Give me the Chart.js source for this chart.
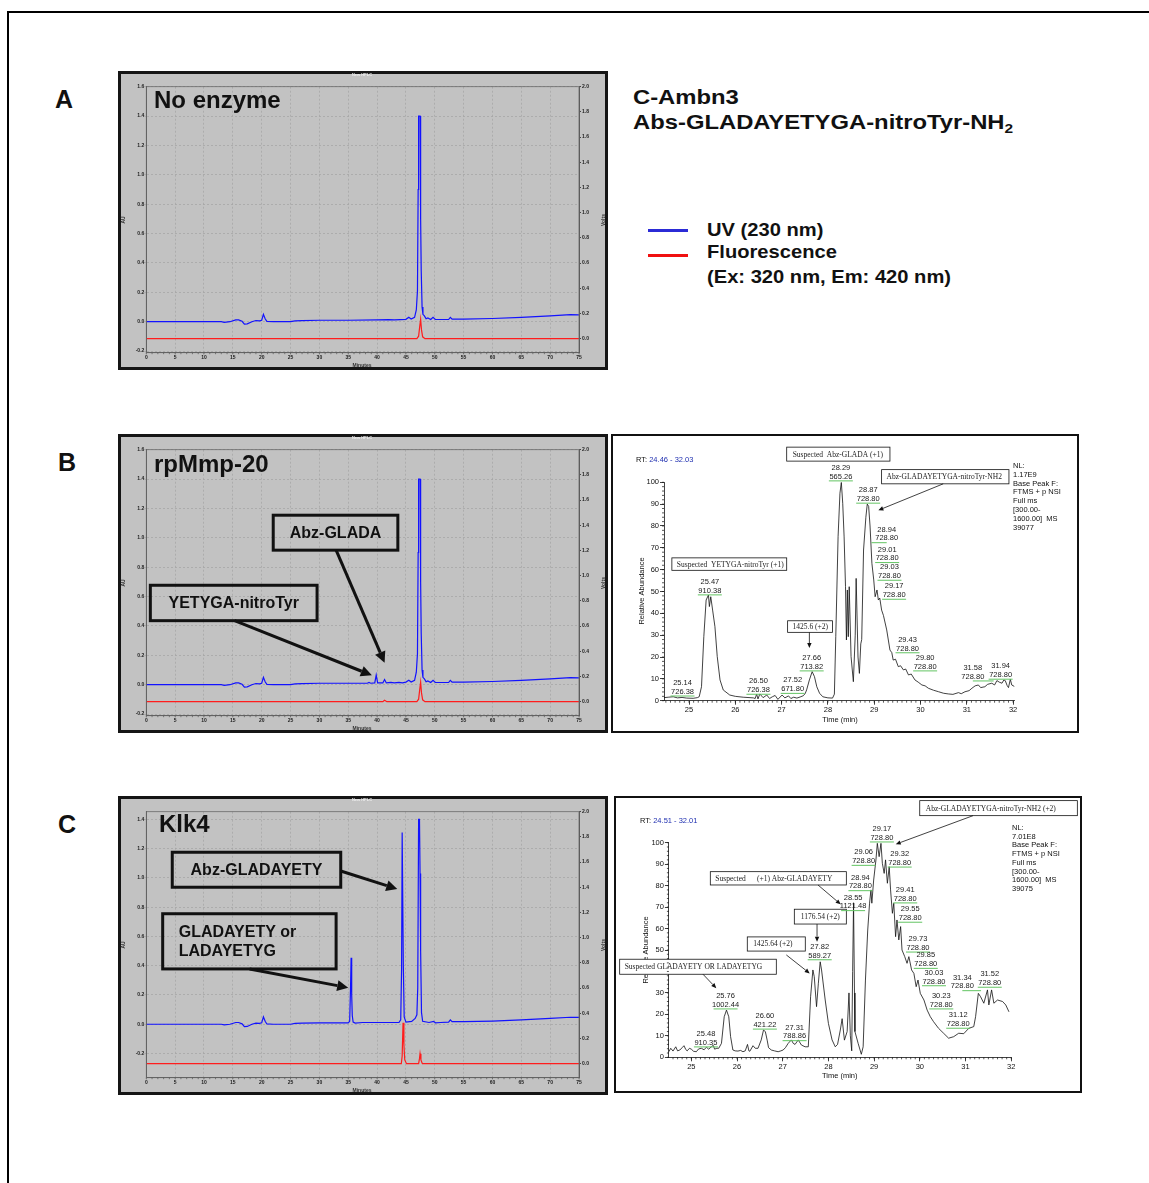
<!DOCTYPE html>
<html>
<head>
<meta charset="utf-8">
<title>C-Ambn3 digestion</title>
<script src="https://cdn.jsdelivr.net/npm/chart.js@4.4.1/dist/chart.umd.min.js"></script>
<style>
body{margin:0;width:1149px;height:1183px;position:relative;overflow:hidden;background:#fff;font-family:"Liberation Sans",Arial,sans-serif;color:#111}
.frame{position:absolute;left:7px;top:11px;width:1200px;height:1200px;border:2px solid #000}
.box{position:absolute;box-sizing:border-box}
.box canvas{display:block}
.hplc{border:3px solid #151515;background:#c2c2c2}
.ms{border:2px solid #111;background:#fff}
.t{position:absolute;white-space:nowrap;line-height:1}
.b{font-weight:bold}
.wide{transform-origin:0 0;transform:scaleX(1.19)}
.leg{transform-origin:0 0;transform:scaleX(1.06)}
.tiny{font-size:5px;font-weight:bold;color:#333}
.rot{transform:translate(-50%,-50%) rotate(-90deg)}
.ctr{transform:translate(-50%,-50%)}
.info{font-size:7.5px;line-height:8.8px}
</style>
</head>
<body>
<div class="frame"></div>

<div class="t b" style="left:55px;top:87px;font-size:25px">A</div>
<div class="t b" style="left:58px;top:450px;font-size:25px">B</div>
<div class="t b" style="left:58px;top:812px;font-size:25px">C</div>

<div class="t b wide" style="left:633px;top:87px;font-size:20px">C-Ambn3</div>
<div class="t b wide" style="left:633px;top:112px;font-size:20px">Abs-GLADAYETYGA-nitroTyr-NH<sub style="font-size:13px;vertical-align:-4px">2</sub></div>

<div style="position:absolute;left:648px;top:229px;width:40px;height:3px;background:#2b2bd6"></div>
<div style="position:absolute;left:648px;top:254px;width:40px;height:3px;background:#f01010"></div>
<div class="t b leg" style="left:707px;top:220px;font-size:19px">UV (230 nm)</div>
<div class="t b leg" style="left:707px;top:242px;font-size:19px">Fluorescence</div>
<div class="t b leg" style="left:707px;top:267px;font-size:19px">(Ex: 320 nm, Em: 420 nm)</div>

<div class="box hplc" style="left:118px;top:71px;width:490px;height:299px"><canvas id="hplcA" width="484" height="293"></canvas></div>
<div class="box hplc" style="left:118px;top:434px;width:490px;height:299px"><canvas id="hplcB" width="484" height="293"></canvas></div>
<div class="box hplc" style="left:118px;top:796px;width:490px;height:299px"><canvas id="hplcC" width="484" height="293"></canvas></div>
<div class="box ms" style="left:611px;top:434px;width:468px;height:299px"><canvas id="msB" width="464" height="295"></canvas></div>
<div class="box ms" style="left:614px;top:796px;width:468px;height:297px"><canvas id="msC" width="464" height="293"></canvas></div>

<div class="t b" style="left:154px;top:88px;font-size:24px">No enzyme</div>
<div class="t b" style="left:154px;top:452px;font-size:24px">rpMmp-20</div>
<div class="t b" style="left:159px;top:812px;font-size:24px">Klk4</div>

<div class="t tiny ctr" style="left:362px;top:75px;color:#eee;font-size:4px">New HPLC</div>
<div class="t tiny ctr" style="left:362px;top:438px;color:#eee;font-size:4px">New HPLC</div>
<div class="t tiny ctr" style="left:362px;top:800px;color:#eee;font-size:4px">New HPLC</div>
<div class="t tiny rot" style="left:123px;top:220px">AU</div>
<div class="t tiny rot" style="left:123px;top:583px">AU</div>
<div class="t tiny rot" style="left:123px;top:945px">AU</div>
<div class="t tiny rot" style="left:603px;top:220px">Volts</div>
<div class="t tiny rot" style="left:603px;top:583px">Volts</div>
<div class="t tiny rot" style="left:603px;top:945px">Volts</div>
<div class="t tiny ctr" style="left:362px;top:365px">Minutes</div>
<div class="t tiny ctr" style="left:362px;top:728px">Minutes</div>
<div class="t tiny ctr" style="left:362px;top:1090px">Minutes</div>

<div class="t" style="left:636px;top:456px;font-size:7.5px">RT: <span style="color:#1f2fb0">24.46 - 32.03</span></div>
<div class="t info" style="left:1013px;top:462px">NL:<br>1.17E9<br>Base Peak F:<br>FTMS + p NSI<br>Full ms<br>[300.00-<br>1600.00]&nbsp; MS<br>39077</div>
<div class="t" style="left:640px;top:817px;font-size:7.5px">RT: <span style="color:#1f2fb0">24.51 - 32.01</span></div>
<div class="t info" style="left:1012px;top:824px;line-height:8.7px">NL:<br>7.01E8<br>Base Peak F:<br>FTMS + p NSI<br>Full ms<br>[300.00-<br>1600.00]&nbsp; MS<br>39075</div>

<script>
Chart.defaults.font.family = '"Liberation Sans", Arial, sans-serif';

// HPLC axes
const minuteTicks = [0, 5, 10, 15, 20, 25, 30, 35, 40, 45, 50, 55, 60, 65, 70, 75];
const auTicksAB = [-0.2, 0, 0.2, 0.4, 0.6, 0.8, 1.0, 1.2, 1.4, 1.6];
const auTicksC = [-0.2, 0, 0.2, 0.4, 0.6, 0.8, 1.0, 1.2, 1.4];
const voltTicks = [0, 0.2, 0.4, 0.6, 0.8, 1.0, 1.2, 1.4, 1.6, 1.8, 2.0];

// MS axes
const msTimeTicks = [25, 26, 27, 28, 29, 30, 31, 32];
const msAbundTicks = [0, 10, 20, 30, 40, 50, 60, 70, 80, 90, 100];

// UV trace (AU) by minute, pieces shared by all three runs
const uvEarly = [[0,0],[13,0],[13.5,-0.004],[14.5,0],[15.5,0.012],[16,0.012],[16.6,0.003],[17,-0.016],[17.5,-0.015],[18.3,0],[19,0.008],[19.6,0.006],[20,0.01],[20.3,0.05],[20.6,0.02],[20.9,0.002],[22,0],[25,0],[25.8,0.006],[27,0.008],[30,0.01],[34,0.01]];
const uvLate = [[52.4,0.015],[52.7,0.03],[53,0.018],[55,0.018],[60,0.022],[65,0.03],[70,0.04],[73.5,0.048],[75,0.047]];

const uvMidA = [[35,0.01],[40,0.012],[42,0.014],[43,0.012],[45,0.016],[45.5,0.03],[45.9,0.018],[46.5,0.03],[46.8,0.08],[47.0,0.21],[47.12,0.9],[47.2,1.4],[47.45,1.4],[47.55,0.7],[47.65,0.35],[47.8,0.1],[47.95,0.05],[48.2,0.04],[48.5,0.02],[48.8,0.025],[49.3,0.015],[49.7,0.03],[50.1,0.015],[51,0.015]];
const uvMidB = [[35,0.01],[38.3,0.01],[38.6,0.015],[38.9,0.01],[39.6,0.012],[39.85,0.065],[40.1,0.012],[41.0,0.012],[41.3,0.035],[41.6,0.012],[42.4,0.016],[43,0.012],[43.8,0.016],[44.4,0.013],[45,0.018],[45.5,0.03],[45.9,0.018],[46.5,0.03],[46.8,0.085],[47.0,0.21],[47.12,0.9],[47.2,1.4],[47.45,1.4],[47.55,0.7],[47.65,0.35],[47.8,0.1],[47.95,0.05],[48.2,0.04],[48.5,0.02],[48.8,0.025],[49.3,0.015],[49.7,0.03],[50.1,0.015],[51,0.015]];
const uvMidC = [[35,0.01],[35.25,0.02],[35.4,0.25],[35.5,0.455],[35.6,0.2],[35.7,0.06],[35.85,0.015],[36.2,0.008],[37.5,0.012],[40,0.012],[43.8,0.012],[44.1,0.03],[44.25,0.38],[44.35,1.31],[44.45,1.31],[44.55,0.4],[44.7,0.05],[45,0.015],[46,0.02],[46.6,0.04],[46.9,0.065],[47.05,0.25],[47.2,1.4],[47.35,1.4],[47.45,1.03],[47.55,0.5],[47.7,0.08],[47.9,0.02],[49,0.012],[49.8,0.02],[50.1,0.01],[51,0.012]];

// fluorescence trace (Volts) by minute
const flA = [[0,0],[46.9,0],[47.2,0.02],[47.4,0.1],[47.55,0.155],[47.7,0.07],[47.9,0.015],[48.3,0],[75,0]];
const flB = [[0,0],[41.0,0],[41.3,0.012],[41.7,0],[46.9,0],[47.2,0.02],[47.4,0.1],[47.55,0.155],[47.7,0.07],[47.9,0.015],[48.3,0],[75,0]];
const flC = [[0,0],[44.2,0],[44.35,0.06],[44.5,0.325],[44.65,0.15],[44.8,0.03],[45.1,0],[47.2,0],[47.35,0.04],[47.45,0.079],[47.6,0.03],[47.85,0],[75,0]];

// base peak chromatograms: [time (min), relative abundance]
const msTraceB = [[24.46,1.4],[24.55,1.6],[24.66,1.8],[24.75,1.3],[24.85,1.5],[24.95,1.2],[25.09,1.1],[25.18,1.4],[25.22,1.8],[25.27,6.4],[25.32,29.3],[25.37,46.1],[25.42,48.4],[25.44,43.1],[25.47,47.6],[25.51,41.5],[25.56,33.9],[25.61,20.2],[25.67,9.5],[25.74,4.9],[25.88,2.6],[26.0,2.0],[26.17,1.6],[26.39,1.3],[26.43,1.0],[26.46,3.0],[26.49,0.8],[26.53,3.1],[26.6,1.4],[26.68,2.6],[26.74,1.0],[26.8,1.8],[26.86,2.4],[26.92,0.6],[27.01,2.6],[27.07,1.3],[27.15,2.2],[27.2,1.0],[27.26,1.6],[27.33,1.2],[27.4,1.7],[27.47,2.3],[27.51,3.3],[27.54,4.9],[27.60,9.5],[27.66,13.3],[27.71,11.0],[27.76,6.4],[27.82,3.4],[27.89,1.8],[28.0,1.3],[28.1,1.2],[28.14,3.0],[28.17,29.3],[28.22,75.1],[28.26,95],[28.29,100],[28.32,90.4],[28.35,75],[28.38,52.2],[28.40,27.8],[28.42,50.7],[28.44,29.3],[28.46,52.2],[28.50,20.2],[28.55,8.7],[28.59,30],[28.61,56],[28.65,20],[28.68,12.5],[28.71,26],[28.73,28],[28.77,69],[28.82,84],[28.85,90],[28.88,89],[28.91,80],[28.95,62.9],[28.99,55.3],[29.02,47.6],[29.06,50.7],[29.09,46.1],[29.12,47],[29.16,41.5],[29.2,39],[29.27,32.4],[29.34,23.2],[29.38,22],[29.41,18.6],[29.46,19],[29.52,15.6],[29.57,16],[29.63,14.1],[29.68,14.5],[29.74,11.8],[29.8,12.2],[29.88,9.5],[29.95,8.5],[30.03,7.2],[30.1,6.8],[30.17,5.7],[30.28,4.8],[30.39,4.1],[30.5,3.4],[30.6,3.1],[30.7,2.9],[30.82,3.7],[30.88,3.2],[30.96,4.1],[31.05,4.6],[31.11,5.7],[31.18,6.8],[31.25,7.2],[31.3,6.0],[31.39,6.4],[31.45,7.5],[31.54,8.0],[31.6,7.2],[31.65,9.2],[31.7,8.5],[31.76,8.0],[31.8,9.5],[31.83,9.2],[31.87,7.0],[31.9,6.0],[31.94,9.8],[31.97,7.2],[32.03,6.5]];
const msTraceC = [[24.51,2.6],[24.55,4.2],[24.6,2.9],[24.66,4.9],[24.7,3.0],[24.75,3.4],[24.8,4.5],[24.84,5.4],[24.88,3.6],[24.91,3.0],[24.96,4.2],[25.0,3.8],[25.05,2.8],[25.11,2.6],[25.16,3.9],[25.22,4.2],[25.28,3.5],[25.33,4.7],[25.38,3.8],[25.44,4.9],[25.48,5.6],[25.51,3.8],[25.56,4.2],[25.6,4.2],[25.66,6.5],[25.72,18.9],[25.77,22.0],[25.82,18.9],[25.86,9.6],[25.91,3.4],[25.96,3.0],[26.02,2.9],[26.08,3.2],[26.13,2.6],[26.18,3.0],[26.23,6.0],[26.26,3.0],[26.28,2.8],[26.35,5.4],[26.4,4.2],[26.46,4.2],[26.53,8.1],[26.58,12.7],[26.62,12.0],[26.66,8.0],[26.69,4.5],[26.75,3.4],[26.82,3.0],[26.9,2.6],[26.96,3.0],[27.01,3.4],[27.06,4.5],[27.12,6.5],[27.19,8.1],[27.23,6.5],[27.27,6.0],[27.34,8.1],[27.41,5.7],[27.49,4.9],[27.56,4.9],[27.61,28.2],[27.66,40.7],[27.69,37.6],[27.74,23.6],[27.78,34.5],[27.82,44.5],[27.85,40.7],[27.93,26.7],[28.0,15.8],[28.08,8.1],[28.15,4.9],[28.2,6.0],[28.26,12.7],[28.3,18.0],[28.35,8],[28.41,12],[28.45,30],[28.48,10],[28.51,3],[28.53,40],[28.55,72],[28.57,30],[28.58,12],[28.65,6.5],[28.72,1.4],[28.76,4.9],[28.81,36],[28.86,59.3],[28.9,71.8],[28.93,78],[28.95,71.8],[28.99,82.6],[29.04,92],[29.07,99.7],[29.11,93.5],[29.15,99.7],[29.18,90.4],[29.22,85.7],[29.25,92],[29.29,81.1],[29.33,88.8],[29.36,78],[29.4,67.1],[29.43,71.8],[29.47,56.2],[29.5,64],[29.54,54.7],[29.58,60.9],[29.61,50],[29.67,46.9],[29.72,43.8],[29.76,46.9],[29.82,40.7],[29.87,39.1],[29.92,32.9],[29.96,36],[30.01,29.8],[30.09,26.7],[30.16,22],[30.23,18.9],[30.3,16.6],[30.41,13.5],[30.52,11.2],[30.63,8.9],[30.74,9.6],[30.85,11.2],[30.96,11],[31.07,13.5],[31.18,14.3],[31.22,18.9],[31.28,29.8],[31.33,28.2],[31.4,25.2],[31.48,31.4],[31.51,24.4],[31.57,31.4],[31.62,25.2],[31.7,26.7],[31.81,26],[31.88,24.4],[31.95,21.2]];

// peak labels: [RT, m/z, label x (min), label y (abundance)]
const msLabelsB = [['25.14','726.38',24.86,8.1],['25.47','910.38',25.45,54.4],['28.29','565.26',28.28,106.6],['28.87','728.80',28.87,96.4],['26.50','726.38',26.50,8.9],['27.52','671.80',27.24,9.3],['27.66','713.82',27.65,19.6],['28.94','728.80',29.27,78.3],['29.01','728.80',29.28,69.2],['29.03','728.80',29.33,61.1],['29.17','728.80',29.43,52.4],['29.43','728.80',29.72,27.9],['29.80','728.80',30.10,19.6],['31.58','728.80',31.13,15.0],['31.94','728.80',31.73,15.8]];
const msLabelsC = [['25.48','910.35',25.32,10.9],['25.76','1002.44',25.75,28.6],['26.60','421.22',26.61,19.2],['27.31','788.86',27.26,13.8],['27.82','589.27',27.81,51.5],['28.55','1121.48',28.54,74.4],['28.94','728.80',28.70,83.7],['29.06','728.80',28.77,95.5],['29.17','728.80',29.17,106.4],['29.32','728.80',29.56,94.7],['29.41','728.80',29.68,78.0],['29.55','728.80',29.79,69.0],['29.73','728.80',29.96,55.1],['29.85','728.80',30.13,47.5],['30.03','728.80',30.31,39.4],['30.23','728.80',30.47,28.6],['31.12','728.80',30.84,19.6],['31.34','728.80',30.93,37.1],['31.52','728.80',31.53,38.7]];

const pts = a => a.map(p => ({x: p[0], y: p[1]}));
const setTicks = vals => s => { s.ticks = vals.map(v => ({value: v})); };

// boxes, arrows and peak labels placed in data units
function annotations(cfg) {
  return {
    id: 'annot',
    afterDatasetsDraw(chart) {
      const ctx = chart.ctx, xs = chart.scales.x, ys = chart.scales[cfg.yAxis];
      const X = v => xs.getPixelForValue(v), Y = v => ys.getPixelForValue(v);
      ctx.save();
      (cfg.titles || []).forEach(t => {
        ctx.save();
        ctx.translate(t.at[0], t.at[1]);
        ctx.rotate(t.rot || 0);
        ctx.font = cfg.peakFont; ctx.fillStyle = '#111';
        ctx.textAlign = 'center'; ctx.textBaseline = 'middle';
        ctx.fillText(t.text, 0, 0);
        ctx.restore();
      });
      (cfg.boxes || []).forEach(b => {
        const x1 = X(b.x[0]), x2 = X(b.x[1]), y1 = Y(b.y[0]), y2 = Y(b.y[1]);
        const l = Math.min(x1, x2), t = Math.min(y1, y2), w = Math.abs(x2 - x1), h = Math.abs(y2 - y1);
        if (cfg.boxFill) { ctx.fillStyle = cfg.boxFill; ctx.fillRect(l, t, w, h); }
        ctx.lineWidth = cfg.boxWidth; ctx.strokeStyle = '#111';
        ctx.strokeRect(l, t, w, h);
        ctx.font = b.font || cfg.boxFont; ctx.fillStyle = cfg.textColor;
        ctx.textBaseline = 'middle';
        const n = b.text.length;
        b.text.forEach((s, i) => {
          const ty = t + h / 2 + (i - (n - 1) / 2) * (cfg.lineH || 10) + 0.5;
          if (b.pad !== undefined) { ctx.textAlign = 'left'; ctx.fillText(s, l + b.pad, ty); }
          else { ctx.textAlign = 'center'; ctx.fillText(s, l + w / 2, ty); }
        });
      });
      (cfg.arrows || []).forEach(a => {
        const x1 = X(a.from[0]), y1 = Y(a.from[1]), x2 = X(a.to[0]), y2 = Y(a.to[1]);
        const ang = Math.atan2(y2 - y1, x2 - x1), L = cfg.head[0], W = cfg.head[1];
        const bx = x2 - L * Math.cos(ang), by = y2 - L * Math.sin(ang);
        ctx.strokeStyle = '#111'; ctx.lineWidth = cfg.arrowWidth;
        ctx.beginPath(); ctx.moveTo(x1, y1); ctx.lineTo(bx, by); ctx.stroke();
        ctx.fillStyle = '#111';
        ctx.beginPath(); ctx.moveTo(x2, y2);
        ctx.lineTo(bx + W * Math.sin(ang), by - W * Math.cos(ang));
        ctx.lineTo(bx - W * Math.sin(ang), by + W * Math.cos(ang));
        ctx.closePath(); ctx.fill();
      });
      (cfg.peaks || []).forEach(p => {
        const cx = X(p[2]), cy = Y(p[3]);
        const px = Math.min(X(parseFloat(p[0])), chart.chartArea.right);
        let g1 = Math.min(cx, px), g2 = Math.max(cx, px);
        if (g2 - g1 < 14) { g1 = cx - 12; g2 = cx + 12; }
        ctx.strokeStyle = '#63c463'; ctx.lineWidth = 1;
        ctx.beginPath(); ctx.moveTo(g1, cy + 13); ctx.lineTo(g2, cy + 13); ctx.stroke();
        ctx.font = cfg.peakFont; ctx.fillStyle = '#1a1a1a';
        ctx.textAlign = 'center'; ctx.textBaseline = 'middle';
        ctx.fillText(p[0], cx, cy);
        ctx.fillText(p[1], cx, cy + 8.7);
      });
      ctx.restore();
    }
  };
}

function minorTicks(xStep, yStep, yId, len, color) {
  return {
    id: 'minor',
    afterDraw(chart) {
      const {ctx, chartArea: a} = chart, xs = chart.scales.x, ys = chart.scales[yId];
      ctx.save();
      ctx.strokeStyle = color; ctx.lineWidth = 0.7;
      ctx.beginPath();
      const n0 = Math.ceil(xs.min / xStep - 1e-6), n1 = Math.floor(xs.max / xStep + 1e-6);
      for (let i = n0; i <= n1; i++) {
        const p = xs.getPixelForValue(i * xStep);
        ctx.moveTo(p, a.bottom); ctx.lineTo(p, a.bottom + len);
      }
      if (yStep) {
        for (let i = Math.ceil(ys.min / yStep); i <= Math.floor(ys.max / yStep); i++) {
          const p = ys.getPixelForValue(i * yStep);
          ctx.moveTo(a.left, p); ctx.lineTo(a.left - len, p);
        }
      }
      ctx.stroke();
      ctx.restore();
    }
  };
}

const plotFrame = {
  id: 'plotFrame',
  afterDraw(chart) {
    const {ctx, chartArea: a} = chart;
    ctx.save();
    ctx.strokeStyle = '#6a6a6a'; ctx.lineWidth = 0.8;
    ctx.strokeRect(a.left, a.top, a.right - a.left, a.bottom - a.top);
    ctx.restore();
  }
};

function hplcChart(id, uv, fl, auMin, auMax, auTicks, notes) {
  const tickFont = {size: 5, weight: 'bold'};
  const fmt = v => Number(v).toFixed(1);
  new Chart(document.getElementById(id), {
    type: 'line',
    data: {datasets: [
      {label: 'Fluorescence', data: pts(fl), yAxisID: 'volts', borderColor: '#ff1c1c', borderWidth: 1.2},
      {label: 'UV (230 nm)', data: pts(uv), yAxisID: 'au', borderColor: '#1212ff', borderWidth: 1.2}
    ]},
    options: {
      responsive: false, animation: false, events: [],
      layout: {padding: {top: 12.7}},
      elements: {point: {radius: 0}, line: {tension: 0}},
      plugins: {legend: {display: false}, tooltip: {enabled: false}},
      scales: {
        x: {type: 'linear', min: 0, max: 75,
          afterBuildTicks: setTicks(minuteTicks), afterFit: s => { s.height = 14.3; },
          ticks: {font: tickFont, color: '#222', padding: 0, maxRotation: 0, autoSkip: false},
          grid: {color: '#a3a3a3', lineWidth: 0.7, tickLength: 2},
          border: {color: '#555', dash: [2, 2]}},
        au: {type: 'linear', position: 'left', min: auMin, max: auMax,
          afterBuildTicks: setTicks(auTicks), afterFit: s => { s.width = 25.3; },
          ticks: {font: tickFont, color: '#222', padding: 0, callback: fmt},
          grid: {color: '#a3a3a3', lineWidth: 0.7, tickLength: 2},
          border: {color: '#555', dash: [2, 2]}},
        volts: {type: 'linear', position: 'right', min: -0.111, max: 2.0,
          afterBuildTicks: setTicks(voltTicks), afterFit: s => { s.width = 26; },
          ticks: {font: tickFont, color: '#222', padding: 1, callback: fmt},
          grid: {drawOnChartArea: false, color: '#444', tickLength: 2},
          border: {color: '#555'}}
      }
    },
    plugins: [plotFrame, minorTicks(1, null, 'au', 1.5, '#555'), annotations(Object.assign({
      yAxis: 'au', boxWidth: 3, boxFont: 'bold 16px "Liberation Sans", Arial', textColor: '#111',
      lineH: 19, arrowWidth: 3, head: [11, 5.5]
    }, notes))]
  });
}

function msChart(id, trace, range, geom, notes) {
  const tickFont = {size: 7.5};
  new Chart(document.getElementById(id), {
    type: 'line',
    data: {datasets: [{label: 'Base peak', data: pts(trace), borderColor: '#111', borderWidth: 0.8}]},
    options: {
      responsive: false, animation: false, events: [],
      layout: {padding: {top: geom.top, right: geom.right}},
      elements: {point: {radius: 0}, line: {tension: 0}},
      plugins: {legend: {display: false}, tooltip: {enabled: false}},
      scales: {
        x: {type: 'linear', min: range[0], max: range[1],
          afterBuildTicks: setTicks(msTimeTicks), afterFit: s => { s.height = geom.bottom; },
          ticks: {font: tickFont, color: '#111', padding: 1, maxRotation: 0, autoSkip: false},
          grid: {drawOnChartArea: false, color: '#111', lineWidth: 0.8, tickLength: 4},
          border: {color: '#111', width: 0.8}},
        y: {type: 'linear', min: 0, max: 100,
          afterBuildTicks: setTicks(msAbundTicks), afterFit: s => { s.width = geom.left; },
          ticks: {font: tickFont, color: '#111', padding: 1},
          grid: {drawOnChartArea: false, color: '#111', lineWidth: 0.8, tickLength: 4},
          border: {color: '#111', width: 0.8}}
      }
    },
    plugins: [minorTicks(0.1, 2, 'y', 2, '#111'), annotations(Object.assign({
      yAxis: 'y', boxWidth: 0.8, boxFill: '#fff', boxFont: '7.5px "Liberation Serif", "Times New Roman", serif',
      textColor: '#222', arrowWidth: 0.8, head: [5, 2.2], peakFont: '7.5px "Liberation Sans", Arial'
    }, notes))]
  });
}

hplcChart('hplcA', uvEarly.concat(uvMidA, uvLate), flA, -0.211, 1.6, auTicksAB, {});

hplcChart('hplcB', uvEarly.concat(uvMidB, uvLate), flB, -0.211, 1.6, auTicksAB, {
  boxes: [
    {x: [22.0, 43.6], y: [1.154, 0.916], text: ['Abz-GLADA']},
    {x: [0.7, 29.6], y: [0.677, 0.436], text: ['YETYGA-nitroTyr']}
  ],
  arrows: [
    {from: [32.9, 0.916], to: [41.3, 0.15]},
    {from: [15.3, 0.436], to: [39.1, 0.064]}
  ]
});

hplcChart('hplcC', uvEarly.concat(uvMidC, uvLate), flC, -0.365, 1.452, auTicksC, {
  boxes: [
    {x: [4.5, 33.7], y: [1.175, 0.936], text: ['Abz-GLADAYETY']},
    {x: [2.84, 32.9], y: [0.755, 0.378], text: ['GLADAYETY or', 'LADAYETYG'], pad: 16}
  ],
  arrows: [
    {from: [33.7, 1.047], to: [43.5, 0.924]},
    {from: [17.9, 0.378], to: [35.0, 0.25]}
  ]
});

msChart('msB', msTraceB, [24.46, 32.03], {left: 51, right: 62.5, top: 46.3, bottom: 30.3}, {
  titles: [
    {text: 'Relative Abundance', at: [29, 155], rot: -Math.PI / 2},
    {text: 'Time (min)', at: [227, 284]}
  ],
  boxes: [
    {x: [27.11, 29.34], y: [116.1, 109.7], text: ['Suspected  Abz-GLADA (+1)'], pad: 6},
    {x: [29.16, 31.91], y: [105.8, 99.3], text: ['Abz-GLADAYETYGA-nitroTyr-NH2'], pad: 5},
    {x: [24.63, 27.11], y: [65.4, 59.7], text: ['Suspected  YETYGA-nitroTyr (+1)'], pad: 5},
    {x: [27.13, 28.10], y: [36.6, 31.3], text: ['1425.6 (+2)'], pad: 5}
  ],
  arrows: [
    {from: [30.49, 99.3], to: [29.09, 87.2]},
    {from: [27.60, 31.3], to: [27.60, 24.1]}
  ],
  peaks: msLabelsB
});

msChart('msC', msTraceC, [24.51, 32.01], {left: 52.9, right: 68.3, top: 44.7, bottom: 33.7}, {
  titles: [
    {text: 'Relative Abundance', at: [30.3, 152], rot: -Math.PI / 2},
    {text: 'Time (min)', at: [223.7, 278]}
  ],
  boxes: [
    {x: [29.998, 33.446], y: [119.6, 112.6], text: ['Abz-GLADAYETYGA-nitroTyr-NH2 (+2)'], pad: 6},
    {x: [25.416, 28.392], y: [86.5, 80.3], text: ['Suspected      (+1) Abz-GLADAYETY'], pad: 5},
    {x: [27.254, 28.392], y: [69.0, 62.1], text: ['1176.54 (+2)']},
    {x: [26.225, 27.494], y: [56.1, 49.5], text: ['1425.64 (+2)'], pad: 6},
    {x: [23.433, 26.860], y: [45.7, 38.7], text: ['Suspected GLADAYETY OR LADAYETYG'], pad: 5}
  ],
  arrows: [
    {from: [31.164, 112.6], to: [29.473, 99.3]},
    {from: [27.772, 80.3], to: [28.269, 71.3]},
    {from: [27.751, 62.1], to: [27.751, 53.9]},
    {from: [27.079, 47.7], to: [27.591, 39.1]},
    {from: [25.256, 38.7], to: [25.547, 32.2]}
  ],
  peaks: msLabelsC
});
</script>
</body>
</html>
